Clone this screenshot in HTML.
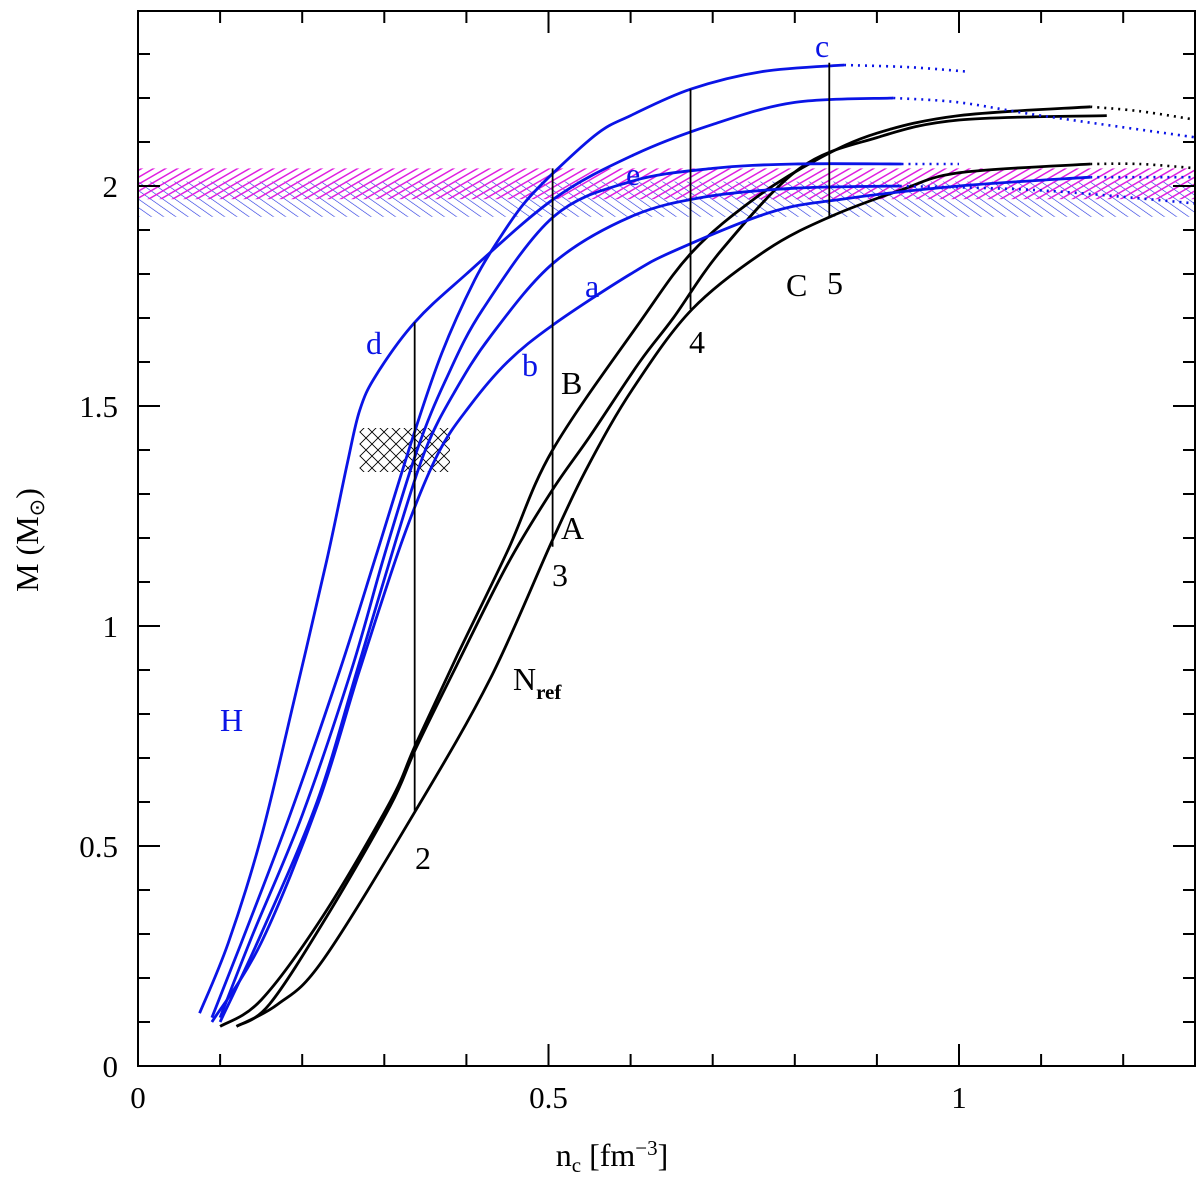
<!DOCTYPE html>
<html><head><meta charset="utf-8"><style>
body{margin:0;background:#fff;}
svg text{font-family:"Liberation Serif",serif;}
</style></head><body>
<svg width="1200" height="1181" viewBox="0 0 1200 1181" xmlns="http://www.w3.org/2000/svg">
<defs>
<pattern id="hatchM" patternUnits="userSpaceOnUse" width="6" height="6" patternTransform="rotate(60)"><line x1="0" y1="0" x2="0" y2="6" stroke="#e020e0" stroke-width="3"/></pattern>
<pattern id="hatchB" patternUnits="userSpaceOnUse" width="7" height="7" patternTransform="rotate(-55)"><line x1="0" y1="0" x2="0" y2="7" stroke="#2030e0" stroke-width="1.2"/></pattern>
<pattern id="cross" patternUnits="userSpaceOnUse" width="12" height="12"><path d="M0 0L12 12M12 0L0 12" stroke="#000" stroke-width="0.9"/></pattern>
<clipPath id="plotclip"><rect x="138" y="11" width="1057" height="1055"/></clipPath>
</defs>
<g id="plot" clip-path="url(#plotclip)"></g>
<g id="axes"></g>
</svg>
<script>
const xTicksMajor=[0,0.5,1];
const xTickLabels=["0","0.5","1"];
const yTicksMajor=[0,0.5,1,1.5,2];
const yTickLabels=["0","0.5","1","1.5","2"];
const blueHatch=[1.93,2.01];
const magentaHatch=[1.97,2.04];
const crossN=[0.27,0.38];
const crossM=[1.35,1.45];
const curveBlack1=[[0.1,0.09],[0.15,0.15],[0.225,0.34],[0.307,0.6],[0.338,0.73],[0.388,0.93],[0.45,1.17],[0.505,1.4],[0.611,1.69],[0.675,1.85],[0.75,1.97],[0.827,2.06],[0.9,2.12],[1.0,2.16],[1.16,2.18]];
const dotBlack1=[[1.16,2.18],[1.22,2.17],[1.29,2.15]];
const curveBlack2=[[0.12,0.09],[0.16,0.14],[0.23,0.34],[0.307,0.59],[0.338,0.72],[0.388,0.91],[0.45,1.14],[0.505,1.31],[0.55,1.43],[0.611,1.6],[0.652,1.7],[0.711,1.855],[0.806,2.04],[0.9,2.11],[1.0,2.15],[1.18,2.16]];
const curveBlack3=[[0.12,0.09],[0.17,0.14],[0.225,0.24],[0.338,0.58],[0.429,0.88],[0.506,1.2],[0.55,1.37],[0.603,1.54],[0.675,1.72],[0.766,1.855],[0.843,1.93],[0.928,1.99],[1.0,2.03],[1.16,2.05]];
const dotBlack3=[[1.16,2.05],[1.22,2.05],[1.29,2.04]];
const curveD=[[0.075,0.12],[0.11,0.28],[0.15,0.52],[0.19,0.83],[0.23,1.15],[0.255,1.37],[0.27,1.49],[0.29,1.57],[0.337,1.69],[0.4,1.8],[0.506,1.97],[0.603,2.07],[0.7,2.14],[0.8,2.19],[0.92,2.2]];
const dotD=[[0.92,2.2],[1.0,2.19],[1.1,2.16],[1.29,2.11]];
const curveC=[[0.09,0.11],[0.13,0.3],[0.185,0.57],[0.246,0.9],[0.29,1.16],[0.335,1.43],[0.37,1.62],[0.41,1.786],[0.44,1.88],[0.47,1.96],[0.506,2.03],[0.56,2.12],[0.6,2.16],[0.673,2.22],[0.76,2.26],[0.86,2.275]];
const dotC=[[0.86,2.275],[0.94,2.27],[1.01,2.26]];
const curveE=[[0.1,0.11],[0.14,0.3],[0.2,0.57],[0.26,0.9],[0.3,1.16],[0.34,1.4],[0.375,1.56],[0.42,1.72],[0.506,1.93],[0.6,2.01],[0.7,2.04],[0.8,2.05],[0.93,2.05]];
const dotE=[[0.93,2.05],[1.0,2.05]];
const curveA=[[0.1,0.1],[0.15,0.3],[0.218,0.6],[0.267,0.9],[0.315,1.2],[0.35,1.4],[0.385,1.53],[0.43,1.66],[0.506,1.825],[0.6,1.93],[0.69,1.975],[0.8,1.995],[0.928,2.0]];
const dotA=[[0.928,2.0],[1.1,1.99],[1.29,1.96]];
const curveB=[[0.09,0.1],[0.15,0.28],[0.22,0.6],[0.27,0.9],[0.323,1.2],[0.365,1.39],[0.404,1.5],[0.45,1.6],[0.506,1.685],[0.6,1.8],[0.656,1.855],[0.77,1.94],[0.857,1.97],[1.0,2.0],[1.16,2.02]];
const dotB=[[1.16,2.02],[1.29,2.02]];
const vlineN=[0.337,0.505,0.673,0.842];
const vlineLo=[0.58,1.18,1.72,1.93];
const vlineHi=[1.69,2.04,2.22,2.28];

const X=v=>138+821*v, Y=v=>1066-440*v;
const NS="http://www.w3.org/2000/svg";
const plot=document.getElementById('plot'), axes=document.getElementById('axes');
function mk(tag,attrs,parent){const e=document.createElementNS(NS,tag);for(const k in attrs)e.setAttribute(k,attrs[k]);parent.appendChild(e);return e;}
function smooth(pts){const p=pts.map(q=>[X(q[0]),Y(q[1])]);let d=`M${p[0][0]},${p[0][1]}`;
 for(let i=0;i<p.length-1;i++){const p0=p[i-1]||p[i],p1=p[i],p2=p[i+1],p3=p[i+2]||p2;
 d+=`C${p1[0]+(p2[0]-p0[0])/6},${p1[1]+(p2[1]-p0[1])/6} ${p2[0]-(p3[0]-p1[0])/6},${p2[1]-(p3[1]-p1[1])/6} ${p2[0]},${p2[1]}`;}return d;}

let r=mk('rect',{x:X(0),y:Y(blueHatch[1]),width:1057,height:Y(blueHatch[0])-Y(blueHatch[1]),fill:'url(#hatchB)'},plot);

r=mk('rect',{x:X(0),y:Y(magentaHatch[1]),width:1057,height:Y(magentaHatch[0])-Y(magentaHatch[1]),fill:'url(#hatchM)'},plot);

r=mk('rect',{x:X(crossN[0]),y:Y(crossM[1]),width:X(crossN[1])-X(crossN[0]),height:Y(crossM[0])-Y(crossM[1]),fill:'url(#cross)'},plot);


const curves=[['curve-black-1',curveBlack1,dotBlack1,'#000'],['curve-black-2',curveBlack2,null,'#000'],['curve-black-3',curveBlack3,dotBlack3,'#000'],
['curve-d',curveD,dotD,'#0a14e6'],['curve-c',curveC,dotC,'#0a14e6'],['curve-e',curveE,dotE,'#0a14e6'],['curve-a',curveA,dotA,'#0a14e6'],['curve-b',curveB,dotB,'#0a14e6']];
curves.forEach(c=>{const p=mk('path',{d:smooth(c[1]),fill:'none',stroke:c[3],'stroke-width':2.8},plot);
 
 if(c[2]){const q=mk('path',{d:smooth(c[2]),fill:'none',stroke:c[3],'stroke-width':2.6,'stroke-dasharray':'2 5'},plot);
 }});
vlineN.forEach((n,i)=>{const l=mk('line',{x1:X(n),x2:X(n),y1:Y(vlineLo[i]),y2:Y(vlineHi[i]),stroke:'#000','stroke-width':1.8},plot);
 });

let f=mk('rect',{x:138,y:11,width:1057,height:1055,fill:'none',stroke:'#000','stroke-width':2},axes);

for(let i=0;i<=12;i++){const v=i/10,maj=i%5===0,L=maj?22:12;
 mk('line',{x1:X(v),x2:X(v),y1:1066,y2:1066-L,stroke:'#000','stroke-width':2},axes);
 mk('line',{x1:X(v),x2:X(v),y1:11,y2:11+L,stroke:'#000','stroke-width':2},axes);}
for(let i=0;i<=23;i++){const v=i/10,maj=i%5===0,L=maj?22:12;
 mk('line',{x1:138,x2:138+L,y1:Y(v),y2:Y(v),stroke:'#000','stroke-width':2},axes);
 mk('line',{x1:1195,x2:1195-L,y1:Y(v),y2:Y(v),stroke:'#000','stroke-width':2},axes);}
xTicksMajor.forEach((v,i)=>{const t=mk('text',{x:X(v),y:1108,'text-anchor':'middle','font-size':31},axes);t.textContent=xTickLabels[i];
 });
yTicksMajor.forEach((v,i)=>{const t=mk('text',{x:118,y:Y(v)+11,'text-anchor':'end','font-size':31},axes);t.textContent=yTickLabels[i];
 });
</script>
<svg style="position:absolute;left:0;top:0" width="1200" height="1181">
<g font-family="Liberation Serif, serif" font-size="32">
<text x="612" y="1166" text-anchor="middle">n<tspan font-size="21" dy="6">c</tspan><tspan dy="-6"> [fm</tspan><tspan font-size="21" dy="-11">−3</tspan><tspan dy="11">]</tspan></text>
<text transform="translate(38,540) rotate(-90)" text-anchor="middle">M (M<tspan font-size="21" dy="6">⊙</tspan><tspan dy="-6">)</tspan></text>
<g fill="#0a14e6">
<text x="815" y="57">c</text>
<text x="626" y="185">e</text>
<text x="585" y="297">a</text>
<text x="366" y="354">d</text>
<text x="522" y="376">b</text>
<text x="220" y="731">H</text>
</g>
<text x="561" y="394">B</text>
<text x="561" y="539">A</text>
<text x="552" y="586">3</text>
<text x="689" y="353">4</text>
<text x="786" y="296">C</text>
<text x="827" y="294">5</text>
<text x="415" y="869">2</text>
<text x="513" y="690">N<tspan font-size="21" font-weight="bold" dy="9">ref</tspan></text>
</g>
</svg>
</body></html>
